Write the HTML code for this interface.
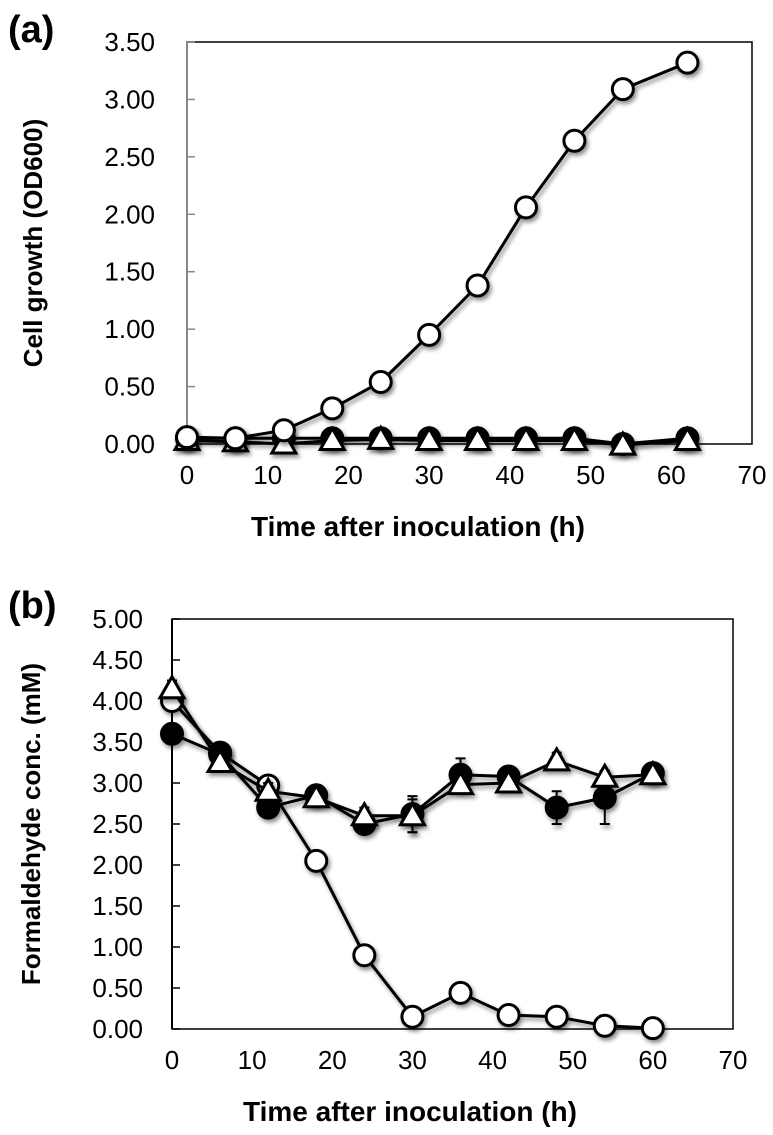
<!DOCTYPE html>
<html><head><meta charset="utf-8"><style>
body{margin:0;background:#fff}
svg text{font-family:"Liberation Sans",Arial,sans-serif}
</style></head><body>
<svg id="s" width="773" height="1130" xmlns="http://www.w3.org/2000/svg">
<defs><filter id="sh" x="-50%" y="-50%" width="200%" height="200%"><feDropShadow dx="2" dy="3" stdDeviation="2" flood-color="#000" flood-opacity="0.45"/></filter></defs>
<text x="8" y="42" font-size="38" font-weight="bold">(a)</text>
<text x="8" y="618" font-size="38" font-weight="bold">(b)</text>
</svg>
<script>
const xTicks=[0,10,20,30,40,50,60,70];
const aYTicks=[0,0.5,1,1.5,2,2.5,3,3.5];
const aYLabels=["0.00","0.50","1.00","1.50","2.00","2.50","3.00","3.50"];
const aX=[0,6,12,18,24,30,36,42,48,54,62];
const aOpen=[0.06,0.05,0.12,0.31,0.54,0.95,1.38,2.06,2.64,3.09,3.32];
const aFilled=[0.05,0.05,0.05,0.05,0.05,0.05,0.05,0.05,0.05,0.0,0.05];
const aTri=[0.03,0.02,0.0,0.03,0.04,0.03,0.03,0.03,0.03,-0.01,0.03];
const bYTicks=[0,0.5,1,1.5,2,2.5,3,3.5,4,4.5,5];
const bYLabels=["0.00","0.50","1.00","1.50","2.00","2.50","3.00","3.50","4.00","4.50","5.00"];
const bX=[0,6,12,18,24,30,36,42,48,54,60];
const bOpen=[4.0,3.37,2.97,2.05,0.9,0.15,0.44,0.17,0.15,0.04,0.01];
const bFilled=[3.6,3.35,2.7,2.85,2.5,2.62,3.1,3.08,2.7,2.82,3.12];
const bFilledErr=[0.05,0.05,0.08,0.05,0.08,0.22,0.2,0.05,0.2,0.32,0.1];
const bTri=[4.15,3.25,2.9,2.82,2.6,2.6,2.98,3.0,3.27,3.07,3.1];
const bTriErr=[0.1,0.05,0.1,0.05,0.1,0.2,0.05,0.05,0.1,0.08,0.05];
const NS="http://www.w3.org/2000/svg",svg=document.getElementById('s');
function mk(t,a,p){const e=document.createElementNS(NS,t);for(const k in a)e.setAttribute(k,a[k]);(p||svg).appendChild(e);return e;}
function panel(cfg){
 const X=v=>cfg.x0+(v/70)*(cfg.x1-cfg.x0);
 const Y=v=>cfg.y0-(v/cfg.ymax)*(cfg.y0-cfg.y1);
 const g=mk('g',{});
 
 
 const fr=mk('rect',{x:cfg.x0,y:cfg.y1,width:cfg.x1-cfg.x0,height:cfg.y0-cfg.y1,fill:'none',stroke:'#000','stroke-width':1.5},g);
 
 
 const ax=mk('line',{x1:cfg.x0,y1:cfg.y0,x2:cfg.x0,y2:cfg.y1,stroke:cfg.axc,'stroke-width':2},g);
 
 
 cfg.yt.forEach((v,i)=>{
  const tk=mk('line',{x1:cfg.x0,x2:cfg.x0+8,y1:Y(v),y2:Y(v),stroke:cfg.axc,'stroke-width':1.5},g);
  
  
  const t=mk('text',{x:cfg.x0-cfg.lg,y:Y(v)+9,'font-size':26,'text-anchor':'end'},g);
  
  
  t.textContent=cfg.yl[i];
 });
 xTicks.forEach(v=>{
  const t=mk('text',{x:X(v),y:cfg.y0+40,'font-size':26,'text-anchor':'middle'},g);
  
  
  t.textContent=v;
 });
 const xt=mk('text',{x:cfg.xtx,y:cfg.y0+92,'font-size':28,'font-weight':'bold','text-anchor':'middle'},g);
 
 
 xt.textContent='Time after inoculation (h)';
 const ym=(cfg.y0+cfg.y1)/2;
 const yt=mk('text',{x:cfg.ytx,y:ym,'font-size':26,'font-weight':'bold','text-anchor':'middle',transform:`rotate(-90 ${cfg.ytx} ${ym})`},g);
 
 
 yt.textContent=cfg.ytitle;
 cfg.series.forEach(s=>{
  const sg=mk('g',{filter:'url(#sh)'},g);
  
  
  if(s.err) s.y.forEach((v,i)=>{
   const e=mk('path',{d:`M${X(cfg.xs[i])} ${Y(v-s.err[i])}V${Y(v+s.err[i])}M${X(cfg.xs[i])-5} ${Y(v-s.err[i])}h10M${X(cfg.xs[i])-5} ${Y(v+s.err[i])}h10`,stroke:'#000','stroke-width':2,fill:'none'},sg);
   
   
  });
  const l=mk('polyline',{points:s.y.map((v,i)=>X(cfg.xs[i])+','+Y(v)).join(' '),fill:'none',stroke:'#000','stroke-width':3},sg);
  
  
  s.y.forEach((v,i)=>{
   const cx=X(cfg.xs[i]),cy=Y(v);let m;
   if(s.m==='tri') m=mk('polygon',{points:`${cx},${cy-12} ${cx-12},${cy+9} ${cx+12},${cy+9}`,fill:'#fff',stroke:'#000','stroke-width':3},sg);
   else m=mk('circle',{cx:cx,cy:cy,r:10.5,fill:s.m==='filled'?'#000':'#fff',stroke:'#000','stroke-width':3},sg);
   
   
  });
 });
}
panel({name:'panel-a-chart',x0:187,x1:752,y0:444,y1:42,ymax:3.5,yt:aYTicks,yl:aYLabels,axc:'#888',lg:32,ytx:42,xtx:418,ytitle:'Cell growth (OD600)',xs:aX,
 series:[{name:'filled-circle-series',y:aFilled,m:'filled'},{name:'triangle-series',y:aTri,m:'tri'},{name:'open-circle-series',y:aOpen,m:'open'}]});
panel({name:'panel-b-chart',x0:172,x1:733,y0:1029,y1:619,ymax:5,yt:bYTicks,yl:bYLabels,axc:'#000',lg:29,ytx:40,xtx:410,ytitle:'Formaldehyde conc.  (mM)',xs:bX,
 series:[{name:'open-circle-series',y:bOpen,m:'open'},{name:'filled-circle-series',y:bFilled,m:'filled',err:bFilledErr},{name:'triangle-series',y:bTri,m:'tri',err:bTriErr}]});
</script>
</body></html>
